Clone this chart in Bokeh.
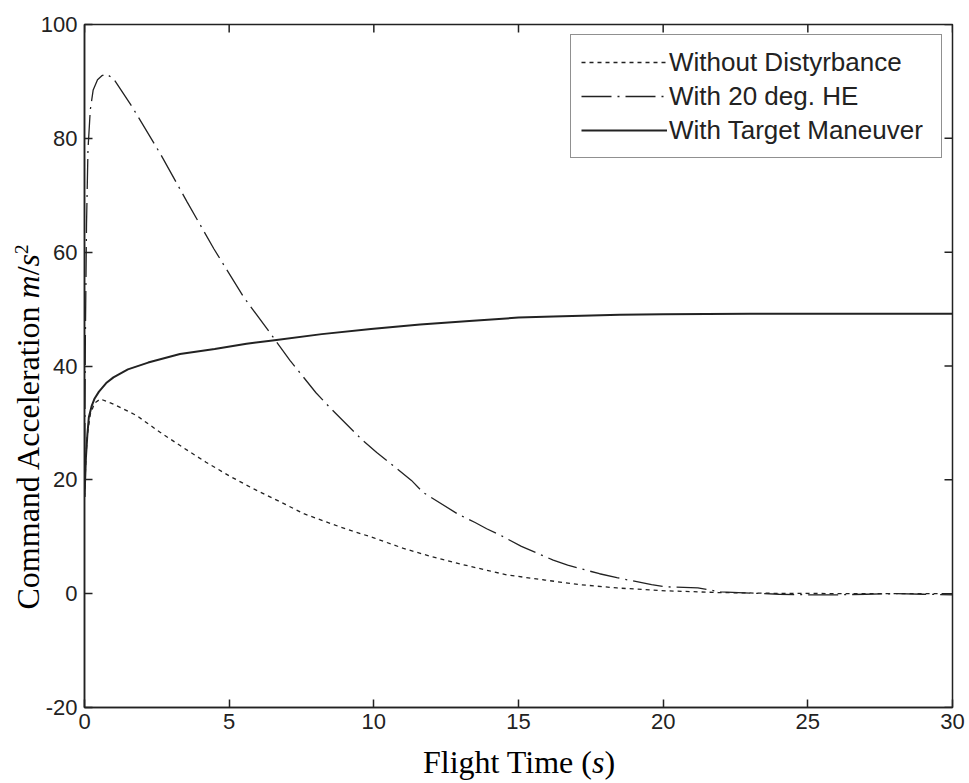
import math
from bokeh.plotting import figure
from bokeh.models import Range1d, FixedTicker, Legend, LegendItem, Div
from bokeh.layouts import row, column
from bokeh.embed import file_html
from bokeh.resources import INLINE

# ---- data ----
t_nodist = [0, 0.05, 0.1, 0.2, 0.35, 0.55, 1.0, 1.8, 2.6, 3.4, 4.2, 5.0, 5.85, 6.7, 7.6, 8.85,
            10, 11, 12, 13, 14, 14.6, 15.9, 17.1, 18.4, 20.1, 21.9, 24, 27, 30]
a_nodist = [17, 24, 28, 31.5, 33.5, 34.2, 33.3, 31.3, 28.4, 25.7, 23.1, 20.7, 18.4, 16.3, 14.0, 11.7,
            9.8, 8.0, 6.5, 5.2, 4.0, 3.3, 2.4, 1.6, 1.0, 0.5, 0.2, 0.05, 0.0, 0.0]

t_he = [0, 0.03, 0.07, 0.12, 0.2, 0.3, 0.45, 0.6, 0.75, 1.0, 1.65, 2.63, 3.55, 4.47, 5.5, 6.43, 7.1,
        8.0, 8.5, 9.6, 10.1, 11.3, 11.7, 12.9, 13.5, 13.9, 14.4, 15.1, 16.2, 16.7, 17.8, 18.4, 19.6,
        20.1, 21.2, 22, 23, 24, 25, 26, 27, 28, 29, 30]
a_he = [17, 45, 65, 78, 85, 88.5, 90.3, 91.0, 91.3, 90.5, 85.5, 77.2, 68.8, 60.6, 52.1, 45.7, 41.0,
        35.3, 32.6, 27.0, 24.8, 19.9, 17.8, 14.0, 12.5, 11.4, 10.2, 8.3, 5.9, 5.0, 3.5, 2.8, 1.6,
        1.2, 1.0, 0.3, 0.1, -0.1, -0.2, -0.2, -0.1, 0.0, -0.1, -0.2]

t_tm = [0, 0.05, 0.1, 0.15, 0.25, 0.35, 0.5, 0.75, 1.0, 1.5, 2.2, 3.3, 4.5, 5.6, 6.5, 8.2, 9.9,
        11.6, 13.3, 15, 16.2, 18.5, 20, 23, 26, 30]
a_tm = [17, 24, 28, 31, 33, 34.3, 35.5, 37, 38, 39.4, 40.6, 42.1, 43.0, 43.9, 44.5, 45.6, 46.5,
        47.3, 47.9, 48.5, 48.7, 49.0, 49.1, 49.2, 49.2, 49.2]

x_ticks = [0, 5, 10, 15, 20, 25, 30]
y_ticks = [-20, 0, 20, 40, 60, 80, 100]
y_tick_labels = ["-20", "0", "20", "40", "60", "80", "100"]
legend_labels = ["Without Distyrbance", "With 20 deg. HE", "With Target Maneuver"]
x_title = 'Flight Time (<i>s</i>)'
y_title = 'Command Acceleration <i>m</i>/<i>s</i><sup style="font-size:19px">2</sup>'

INK = "#222222"
TICK_FONT = "Liberation Sans"
SERIF = "Liberation Serif"

YDIV_W = 36
FIG_W = 969 - YDIV_W
FIG_H = 745

p = figure(width=FIG_W, height=FIG_H, output_backend="svg", toolbar_location=None,
           x_range=Range1d(x_ticks[0], x_ticks[-1]), y_range=Range1d(y_ticks[0], y_ticks[-1]),
           min_border_left=84 - YDIV_W, min_border_right=17, min_border_top=24,
           min_border_bottom=FIG_H - 707)
p.background_fill_color = "white"
p.border_fill_alpha = 0
p.grid.visible = False
p.outline_line_color = INK
p.outline_line_width = 1.5

for ax in (p.xaxis[0], p.yaxis[0]):
    ax.major_tick_in = 8
    ax.major_tick_out = 0
    ax.minor_tick_in = 0
    ax.minor_tick_out = 0
    ax.axis_line_color = INK
    ax.axis_line_width = 1.5
    ax.major_tick_line_color = INK
    ax.major_tick_line_width = 1.5
    ax.major_label_text_font = TICK_FONT
    ax.major_label_text_font_size = "22px"
    ax.major_label_text_color = INK
p.xaxis[0].ticker = FixedTicker(ticks=x_ticks)
p.yaxis[0].ticker = FixedTicker(ticks=y_ticks)
p.yaxis[0].major_label_overrides = {v: s for v, s in zip(y_ticks, y_tick_labels)}
p.xaxis[0].major_label_standoff = 6
p.yaxis[0].major_label_standoff = 7

# inward ticks on the top and right edges (markers clipped by the frame)
p.scatter(x=x_ticks, y=[y_ticks[-1]] * len(x_ticks), marker="dash", size=16,
          angle=math.pi / 2, line_color=INK, line_width=1.5)
p.scatter(x=[x_ticks[-1]] * len(y_ticks), y=y_ticks, marker="dash", size=16,
          line_color=INK, line_width=1.5)

r1 = p.line(t_nodist, a_nodist, line_color=INK, line_width=1.3, line_dash="4 4")
r2 = p.line(t_he, a_he, line_color=INK, line_width=1.3, line_dash="30 6 2 6")
r3 = p.line(t_tm, a_tm, line_color=INK, line_width=2)

legend = Legend(items=[LegendItem(label=legend_labels[0], renderers=[r1]),
                       LegendItem(label=legend_labels[1], renderers=[r2]),
                       LegendItem(label=legend_labels[2], renderers=[r3])],
                location="top_right", margin=10, padding=10, spacing=0,
                glyph_width=86, glyph_height=34, label_height=34, label_standoff=2,
                label_width=262,
                label_text_font="Liberation Sans", label_text_font_size="26px",
                label_text_color=INK, border_line_color=INK, border_line_width=1.5,
                background_fill_color="white", background_fill_alpha=1.0)
p.add_layout(legend)

ydiv = Div(width=YDIV_W, height=FIG_H, margin=0,
           text=('<div style="position:absolute; left:28px; top:427px; '
                 'transform:translate(-50%,-50%) rotate(-90deg); white-space:nowrap; '
                 f"font-family:'{SERIF}'; font-size:32px; color:black; line-height:1;\">"
                 + y_title + '</div>'))
xdiv = Div(width=969, height=783 - FIG_H, margin=0,
           text=('<div style="position:absolute; left:519px; top:17px; '
                 'transform:translate(-50%,-50%); white-space:nowrap; '
                 f"font-family:'{SERIF}'; font-size:32px; color:black; line-height:1;\">"
                 + x_title + '</div>'))

layout = column(row(ydiv, p, spacing=0), xdiv, spacing=0)

open("out.html", "w").write(file_html(layout, INLINE))
